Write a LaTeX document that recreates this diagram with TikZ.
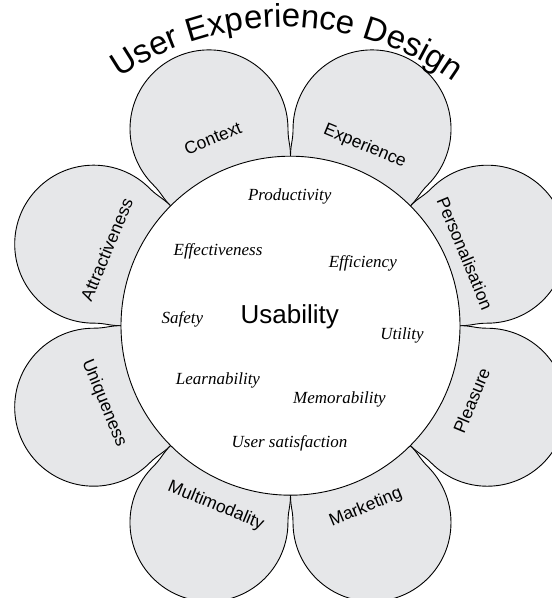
\documentclass[tikz,border=0pt]{standalone}
\usepackage{fontspec}
\setmainfont{Liberation Sans}
\newfontfamily\termfont{Liberation Serif}
\usetikzlibrary{decorations.text}
\definecolor{petalgray}{RGB}{230,231,233}
\begin{document}
\begin{tikzpicture}[x=1pt,y=1pt,
  petal/.style={draw=black, line width=0.9pt, fill=petalgray},
  hub/.style={circle, draw=black, line width=0.9pt, fill=white, inner sep=0pt, minimum size=339pt},
  petallabel/.style={font=\fontsize{17.5}{18}\selectfont, inner sep=0pt},
  term/.style={font=\termfont\itshape\fontsize{17}{18}\selectfont, anchor=base, inner sep=0pt},
  coreterm/.style={font=\fontsize{26}{28}\selectfont, anchor=base, inner sep=0pt}]
\useasboundingbox (0,0) rectangle (552,598);
\clip (0,0) rectangle (552,598);
\coordinate (c) at (290.5,272.3);

% eight teardrop petals around the hub, each with its label
\foreach \ang/\name/\rad/\rot in {
    22.5/Personalisation/189/-67.5,
    67.5/Experience/194/-22.5,
    112.5/Context/203/22.5,
    157.5/Attractiveness/199/67.5,
    202.5/Uniqueness/202/-67.5,
    247.5/Multimodality/195/-22.5,
    292.5/Marketing/197/22.5,
    337.5/Pleasure/196/67.5}{
  \begin{scope}[shift={(c)}, rotate=\ang]
    \draw[petal] (-22.5:169.5) .. controls +(-22.5:12) and +(157.5:12) .. (182.8,-73.0)
       arc[start angle=-112.5, end angle=112.5, radius=79]
       .. controls +(202.5:12) and +(22.5:12) .. (22.5:169.5) -- cycle;
  \end{scope}
  \node[petallabel, rotate=\rot] (p-\name) at ([shift={(\ang:\rad)}]c) {\name};
}

% central disc
\node[hub] (hub) at (c) {};

% terms inside the disc
\node[coreterm] (usability) at (289.7,274) {Usability};
\node[term] (productivity) at (289.7,397.3) {Productivity};
\node[term] (effectiveness) at (218,342) {Effectiveness};
\node[term] (efficiency) at (362.8,330.7) {Efficiency};
\node[term] (safety) at (182.3,274) {Safety};
\node[term] (utility) at (402,258.7) {Utility};
\node[term] (learnability) at (218,213) {Learnability};
\node[term] (memorability) at (339.5,194) {Memorability};
\node[term] (satisfaction) at (289.5,150.7) {User satisfaction};

% curved title over the top
\path[decorate, decoration={text along path, text align=center,
      text={|\fontsize{33}{33}\selectfont|User Experience Design}}]
  ([shift={(149.3:290)}]283.6,281) arc[start angle=149.3, end angle=29.3, radius=290];
\end{tikzpicture}
\end{document}
